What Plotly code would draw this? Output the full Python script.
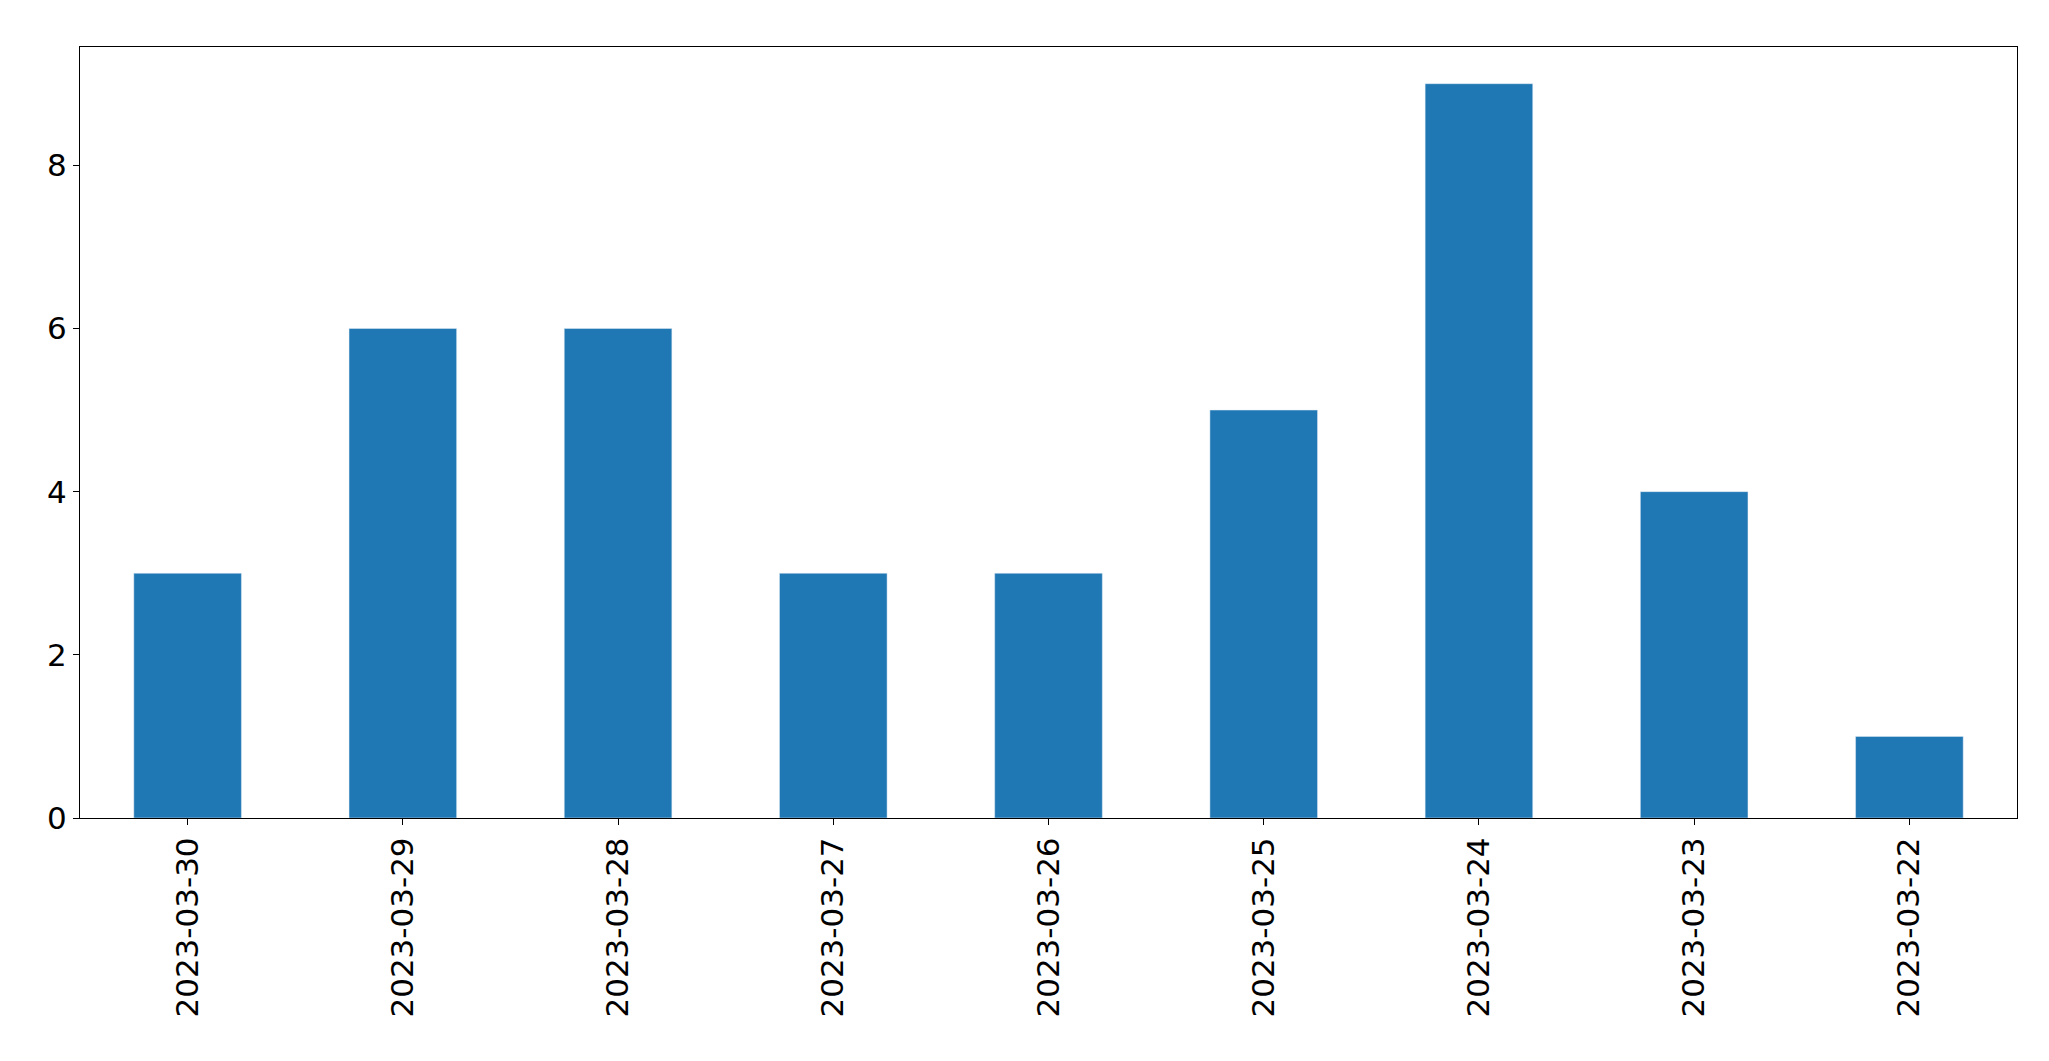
import plotly.graph_objects as go

dates = ["2023-03-30","2023-03-29","2023-03-28","2023-03-27","2023-03-26","2023-03-25","2023-03-24","2023-03-23","2023-03-22"]
counts = [3,6,6,3,3,5,9,4,1]

fig = go.Figure(go.Bar(x=dates, y=counts, marker_color="#1f77b4", width=0.5))
fig.update_layout(
    width=2049, height=1061, plot_bgcolor="white", paper_bgcolor="white",
    margin=dict(l=72, r=40, t=39, b=251), showlegend=False,
    font=dict(family="DejaVu Sans", size=31, color="black"),
)
fig.update_xaxes(type="category", range=[-0.5, 8.5], tickangle=-90, showline=True, linecolor="black",
                 mirror=True, ticks="outside", ticklen=6, tickcolor="black", showgrid=False)
fig.update_yaxes(range=[0, 9.45], tickvals=[0,2,4,6,8], showline=True, linecolor="black", mirror=True,
                 ticks="outside", ticklen=6, tickcolor="black", showgrid=False, zeroline=False)
fig.write_html("out.html")
